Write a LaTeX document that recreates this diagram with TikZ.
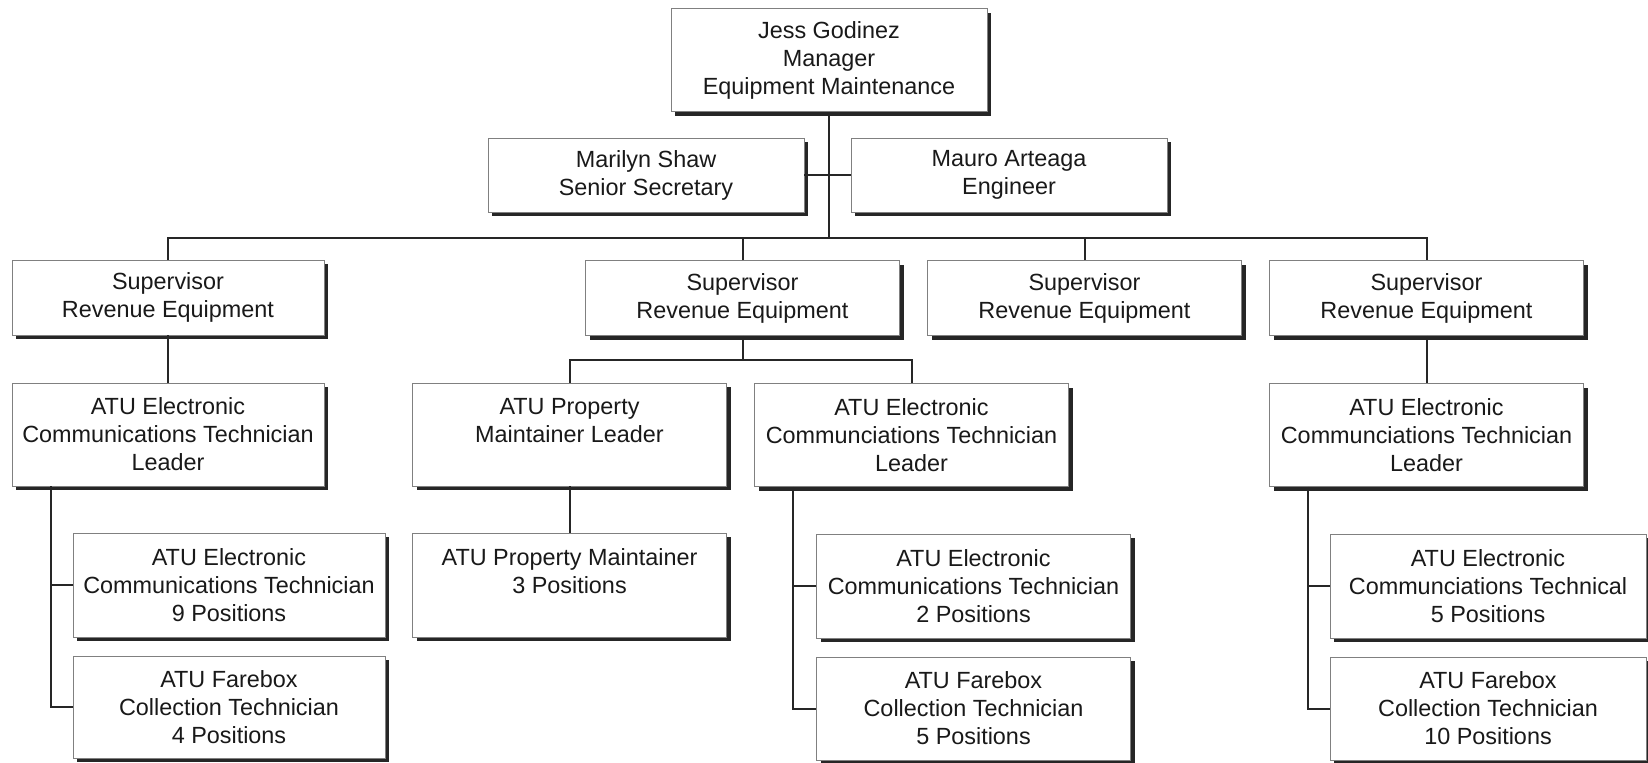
\documentclass[tikz,border=0pt]{standalone}
\usepackage{fontspec}
\setmainfont{Liberation Sans}
\usetikzlibrary{shadows}
\begin{document}
\begin{tikzpicture}[x=0.5pt,y=-0.5pt,
  box/.style={draw=black!50, line width=0.4pt, fill=white, inner sep=0pt, align=center,
    font={\fontsize{11.7}{14}\selectfont}, text=black!90, minimum width=157pt,
    drop shadow={shadow xshift=2pt, shadow yshift=-2pt, opacity=1, fill=black!85}},
  tall/.style={minimum height=51.5pt},
  short/.style={minimum height=37pt},
  conn/.style={line width=1pt, draw=black!85}]
\useasboundingbox[fill=white] (0,0) rectangle (1648,762);

% nodes
\node[box,tall,minimum width=158pt] (mgr) at (829,60) {Jess Godinez\\Manager\\Equipment Maintenance};
\node[box,short,minimum width=158pt] (mar) at (646,175) {Marilyn Shaw\\Senior Secretary};
\node[box,short,minimum width=158pt] (mau) at (1009,175) {Mauro Arteaga\\Engineer};

\node[box,short,minimum height=37.5pt,minimum width=156pt] (sup1) at (168,297.5) {Supervisor\\Revenue Equipment};
\node[box,short,minimum height=37.5pt] (sup2) at (742.5,298) {Supervisor\\Revenue Equipment};
\node[box,short,minimum height=37.5pt] (sup3) at (1084.5,298) {Supervisor\\Revenue Equipment};
\node[box,short,minimum height=37.5pt] (sup4) at (1426.5,298) {Supervisor\\Revenue Equipment};

\node[box,tall,minimum width=156pt] (led1) at (168,434.5) {ATU Electronic\\Communications Technician\\Leader};
\node[box,tall] (pml) at (569.5,434.5) {ATU Property\\Maintainer Leader\\\mbox{}};
\node[box,tall] (led2) at (911.5,435) {ATU Electronic\\Communciations Technician\\Leader};
\node[box,tall] (led4) at (1426.5,435) {ATU Electronic\\Communciations Technician\\Leader};

\node[box,minimum height=52pt,minimum width=156pt] (e1) at (229,585) {ATU Electronic\\Communications Technician\\9 Positions};
\node[box,minimum height=51pt,minimum width=156pt] (f1) at (229,707) {ATU Farebox\\Collection Technician\\4 Positions};
\node[box,minimum height=52pt] (pm) at (569.5,585) {ATU Property Maintainer\\3 Positions\\\mbox{}};
\node[box,minimum height=52pt] (e2) at (973.5,586) {ATU Electronic\\Communications Technician\\2 Positions};
\node[box,minimum height=51.5pt] (f2) at (973.5,708.5) {ATU Farebox\\Collection Technician\\5 Positions};
\node[box,minimum height=52pt,minimum width=158pt] (e4) at (1488,586) {ATU Electronic\\Communciations Technical\\5 Positions};
\node[box,minimum height=51.5pt,minimum width=158pt] (f4) at (1488,708.5) {ATU Farebox\\Collection Technician\\10 Positions};

% connector points
\coordinate (bus) at (829,238);
\coordinate (bus2) at (742.5,360);
\coordinate (t1) at (51,0);
\coordinate (t2) at (793,0);
\coordinate (t4) at (1308,0);

% connectors
\draw[conn] (mgr.south) -- (bus);
\draw[conn] (mar.east) -- (mau.west);
\draw[conn] (sup1.north) -- (sup1.north |- bus) -- (sup4.north |- bus) -- (sup4.north);
\draw[conn] (sup2.north) -- (sup2.north |- bus);
\draw[conn] (sup3.north) -- (sup3.north |- bus);

\draw[conn] (sup1.south) -- (led1.north);
\draw[conn] (sup4.south) -- (led4.north);
\draw[conn] (sup2.south) -- (bus2);
\draw[conn] (pml.north) -- (pml.north |- bus2) -- (led2.north |- bus2) -- (led2.north);
\draw[conn] (pml.south) -- (pm.north);

\draw[conn] (led1.south -| t1) |- (f1.west);
\draw[conn] (e1.west) -- (e1.west -| t1);
\draw[conn] (led2.south -| t2) |- (f2.west);
\draw[conn] (e2.west) -- (e2.west -| t2);
\draw[conn] (led4.south -| t4) |- (f4.west);
\draw[conn] (e4.west) -- (e4.west -| t4);
\end{tikzpicture}
\end{document}
